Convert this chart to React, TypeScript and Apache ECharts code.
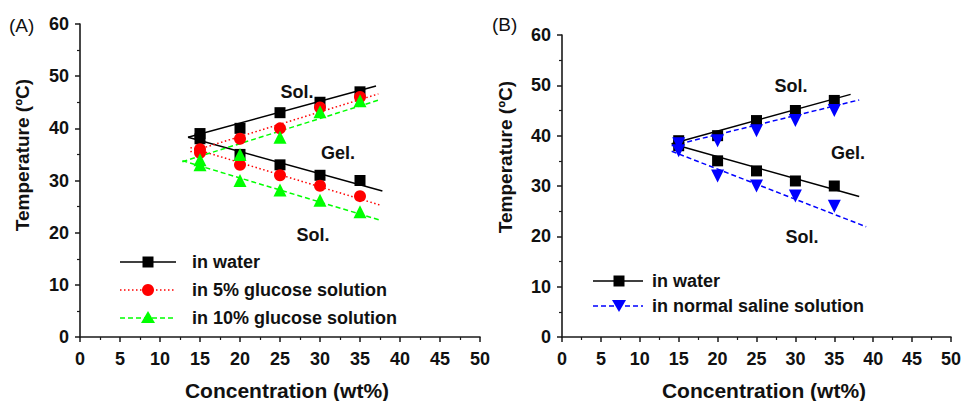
import React, { useEffect, useRef } from "react";
import * as echarts from "echarts";

// ---------- data ----------
const concentrations = [15, 20, 25, 30, 35];

// Panel (A)
const waterSolGelA = [39, 40, 43, 45, 47];
const waterGelSolA = [38, 35, 33, 31, 30];
const glucose5SolGel = [36, 38, 40, 44, 46];
const glucose5GelSol = [35.3, 33, 31, 29, 27];
const glucose10SolGel = [34, 35, 38.3, 43.2, 45.3];
const glucose10GelSol = [33, 30, 28.2, 26.2, 24];

// Panel (B)
const waterSolGelB = [39, 40, 43, 45, 47];
const waterGelSolB = [38, 35, 33, 31, 30];
const salineSolGel = [38.4, 39, 41, 43, 45];
const salineGelSol = [37, 32, 30, 28, 26];

// fitted lines (end points)
const fitWaterUpperA = [[13.5, 38.3], [37, 48.1]];
const fitWaterLowerA = [[13.5, 38.3], [37.8, 28.0]];
const fitGlu5UpperA = [[13.8, 35.5], [37.3, 46.6]];
const fitGlu5LowerA = [[13.8, 36.3], [37.5, 25.3]];
const fitGlu10UpperA = [[12.8, 33.6], [37.5, 45.5]];
const fitGlu10LowerA = [[12.8, 33.8], [37.5, 22.4]];

const fitWaterUpperB = [[14.1, 38.4], [37.1, 48.2]];
const fitWaterLowerB = [[14.1, 38.4], [38.2, 27.9]];
const fitSalineUpperB = [[14.1, 38.0], [38.2, 47.1]];
const fitSalineLowerB = [[14.1, 36.9], [39.1, 21.9]];

const xTicks = { min: 0, max: 50, interval: 5 };
const yTicks = { min: 0, max: 60, interval: 10 };

const legendA = ["in water", "in 5% glucose solution", "in 10% glucose solution"];
const legendB = ["in water", "in normal saline solution"];

const FONT = "'Liberation Sans', Arial, Helvetica, sans-serif";
const BLACK = "#000000";
const RED = "#ff0000";
const GREEN = "#00ff00";
const BLUE = "#0000ff";
const INK = "#111111";

const pairs = (ys: number[]) => concentrations.map((x, i) => [x, ys[i]]);

function xAxis(gridIndex: number) {
  return {
    type: "value",
    gridIndex,
    min: xTicks.min,
    max: xTicks.max,
    interval: xTicks.interval,
    axisLine: { show: true, onZero: false, lineStyle: { color: "#1a1a1a", width: 1.6 } },
    axisTick: { show: true, inside: false, length: 5, lineStyle: { color: "#1a1a1a", width: 1.5 } },
    minorTick: { show: true, splitNumber: 2, length: 3, lineStyle: { color: "#1a1a1a", width: 1.2 } },
    splitLine: { show: false },
    axisLabel: { color: INK, fontSize: 18, fontWeight: "bold", fontFamily: FONT, margin: 13 },
  };
}

function yAxis(gridIndex: number) {
  return {
    type: "value",
    gridIndex,
    min: yTicks.min,
    max: yTicks.max,
    interval: yTicks.interval,
    axisLine: { show: true, onZero: false, lineStyle: { color: "#1a1a1a", width: 1.6 } },
    axisTick: { show: true, inside: false, length: 5, lineStyle: { color: "#1a1a1a", width: 1.5 } },
    minorTick: { show: true, splitNumber: 2, length: 3, lineStyle: { color: "#1a1a1a", width: 1.2 } },
    splitLine: { show: false },
    axisLabel: { color: INK, fontSize: 18, fontWeight: "bold", fontFamily: FONT, margin: 11 },
  };
}

function fit(name: string, idx: number, data: number[][], color: string, type: any) {
  return {
    name,
    type: "line",
    xAxisIndex: idx,
    yAxisIndex: idx,
    data,
    showSymbol: false,
    symbol: "none",
    silent: true,
    z: 2,
    lineStyle: { color, width: 1.5, type },
  };
}

function pts(name: string, idx: number, ys: number[], symbol: string, color: string, size: number, rotate = 0, z = 3) {
  return {
    name,
    type: "scatter",
    xAxisIndex: idx,
    yAxisIndex: idx,
    data: pairs(ys),
    symbol,
    symbolSize: size,
    symbolRotate: rotate,
    z,
    itemStyle: { color, opacity: 1 },
  };
}

const txt = (text: string, x: number, y: number, size = 18, extra: any = {}) => ({
  type: "text",
  x,
  y,
  style: {
    text,
    fill: INK,
    font: `bold ${size}px ${FONT}`,
    align: "center",
    verticalAlign: "middle",
    ...extra,
  },
});

function legendRow(x0: number, x1: number, y: number, textX: number, label: string, color: string, dash: any, marker: any) {
  return [
    {
      type: "line",
      shape: { x1: x0, y1: y, x2: x1, y2: y },
      style: { stroke: color, lineWidth: 1.5, lineDash: dash },
    },
    marker,
    {
      type: "text",
      x: textX,
      y,
      style: { text: label, fill: INK, font: `bold 18px ${FONT}`, align: "left", verticalAlign: "middle" },
    },
  ];
}

export default function App() {
  const ref = useRef<HTMLDivElement>(null);

  useEffect(() => {
    if (!ref.current) return;
    const chart = echarts.init(ref.current, undefined, { renderer: "svg" });

    const graphics: any[] = [
      { type: "text", x: 9, y: 25, style: { text: "(A)", fill: INK, font: `19px ${FONT}`, align: "left", verticalAlign: "middle" } },
      { type: "text", x: 492, y: 24, style: { text: "(B)", fill: INK, font: `19px ${FONT}`, align: "left", verticalAlign: "middle" } },
      { type: "text", x: 22, y: 155, rotation: Math.PI / 2, style: { text: "Temperature (ºC)", fill: INK, font: `bold 19px ${FONT}`, align: "center", verticalAlign: "middle" } },
      { type: "text", x: 505, y: 157, rotation: Math.PI / 2, style: { text: "Temperature (ºC)", fill: INK, font: `bold 19px ${FONT}`, align: "center", verticalAlign: "middle" } },
      txt("Concentration (wt%)", 287, 390, 21),
      txt("Concentration (wt%)", 764, 390, 21),
      txt("Sol.", 297, 92),
      txt("Gel.", 338, 153),
      txt("Sol.", 313, 235),
      txt("Sol.", 791, 86),
      txt("Gel.", 848, 153),
      txt("Sol.", 802, 237),
      ...legendRow(120, 176, 262, 192, legendA[0], BLACK, null, { type: "rect", shape: { x: 142.5, y: 256.5, width: 11, height: 11 }, style: { fill: BLACK } }),
      ...legendRow(120, 176, 290, 192, legendA[1], RED, [1.5, 2.5], { type: "circle", shape: { cx: 148, cy: 290, r: 6 }, style: { fill: RED } }),
      ...legendRow(120, 176, 318, 192, legendA[2], GREEN, [5, 3], { type: "polygon", shape: { points: [[148, 311], [155, 323], [141, 323]] }, style: { fill: GREEN } }),
      ...legendRow(593, 643, 281, 652, legendB[0], BLACK, null, { type: "rect", shape: { x: 613.5, y: 275.5, width: 11, height: 11 }, style: { fill: BLACK } }),
      ...legendRow(593, 643, 306, 652, legendB[1], BLUE, [5, 3], { type: "polygon", shape: { points: [[612, 300], [626, 300], [619, 312]] }, style: { fill: BLUE } }),
    ];

    chart.setOption({
      animation: false,
      backgroundColor: "#ffffff",
      grid: [
        { left: 80, top: 24, width: 400, height: 313, containLabel: false },
        { left: 562, top: 35, width: 390, height: 302, containLabel: false },
      ],
      xAxis: [xAxis(0), xAxis(1)],
      yAxis: [yAxis(0), yAxis(1)],
      series: [
        fit("in water", 0, fitWaterUpperA, BLACK, "solid"),
        fit("in water", 0, fitWaterLowerA, BLACK, "solid"),
        fit("in 5% glucose solution", 0, fitGlu5UpperA, RED, [1.5, 2.5]),
        fit("in 5% glucose solution", 0, fitGlu5LowerA, RED, [1.5, 2.5]),
        fit("in 10% glucose solution", 0, fitGlu10UpperA, GREEN, [5, 3]),
        fit("in 10% glucose solution", 0, fitGlu10LowerA, GREEN, [5, 3]),
        pts("in water", 0, waterSolGelA, "rect", BLACK, 11, 0, 3),
        pts("in water", 0, waterGelSolA, "rect", BLACK, 11, 0, 3),
        pts("in 5% glucose solution", 0, glucose5SolGel, "circle", RED, 12, 0, 4),
        pts("in 5% glucose solution", 0, glucose5GelSol, "circle", RED, 12, 0, 4),
        pts("in 10% glucose solution", 0, glucose10SolGel, "triangle", GREEN, 13, 0, 5),
        pts("in 10% glucose solution", 0, glucose10GelSol, "triangle", GREEN, 13, 0, 5),

        fit("in water", 1, fitWaterUpperB, BLACK, "solid"),
        fit("in water", 1, fitWaterLowerB, BLACK, "solid"),
        fit("in normal saline solution", 1, fitSalineUpperB, BLUE, [5, 3]),
        fit("in normal saline solution", 1, fitSalineLowerB, BLUE, [5, 3]),
        pts("in water", 1, waterSolGelB, "rect", BLACK, 11, 0, 3),
        pts("in water", 1, waterGelSolB, "rect", BLACK, 11, 0, 3),
        pts("in normal saline solution", 1, salineSolGel, "triangle", BLUE, 13, 180, 5),
        pts("in normal saline solution", 1, salineGelSol, "triangle", BLUE, 13, 180, 5),
      ],
      graphic: graphics,
    });

    return () => chart.dispose();
  }, []);

  return (
    <div
      ref={ref}
      style={{ position: "absolute", left: 0, top: 0, width: 964, height: 401, background: "#fff" }}
    />
  );
}
